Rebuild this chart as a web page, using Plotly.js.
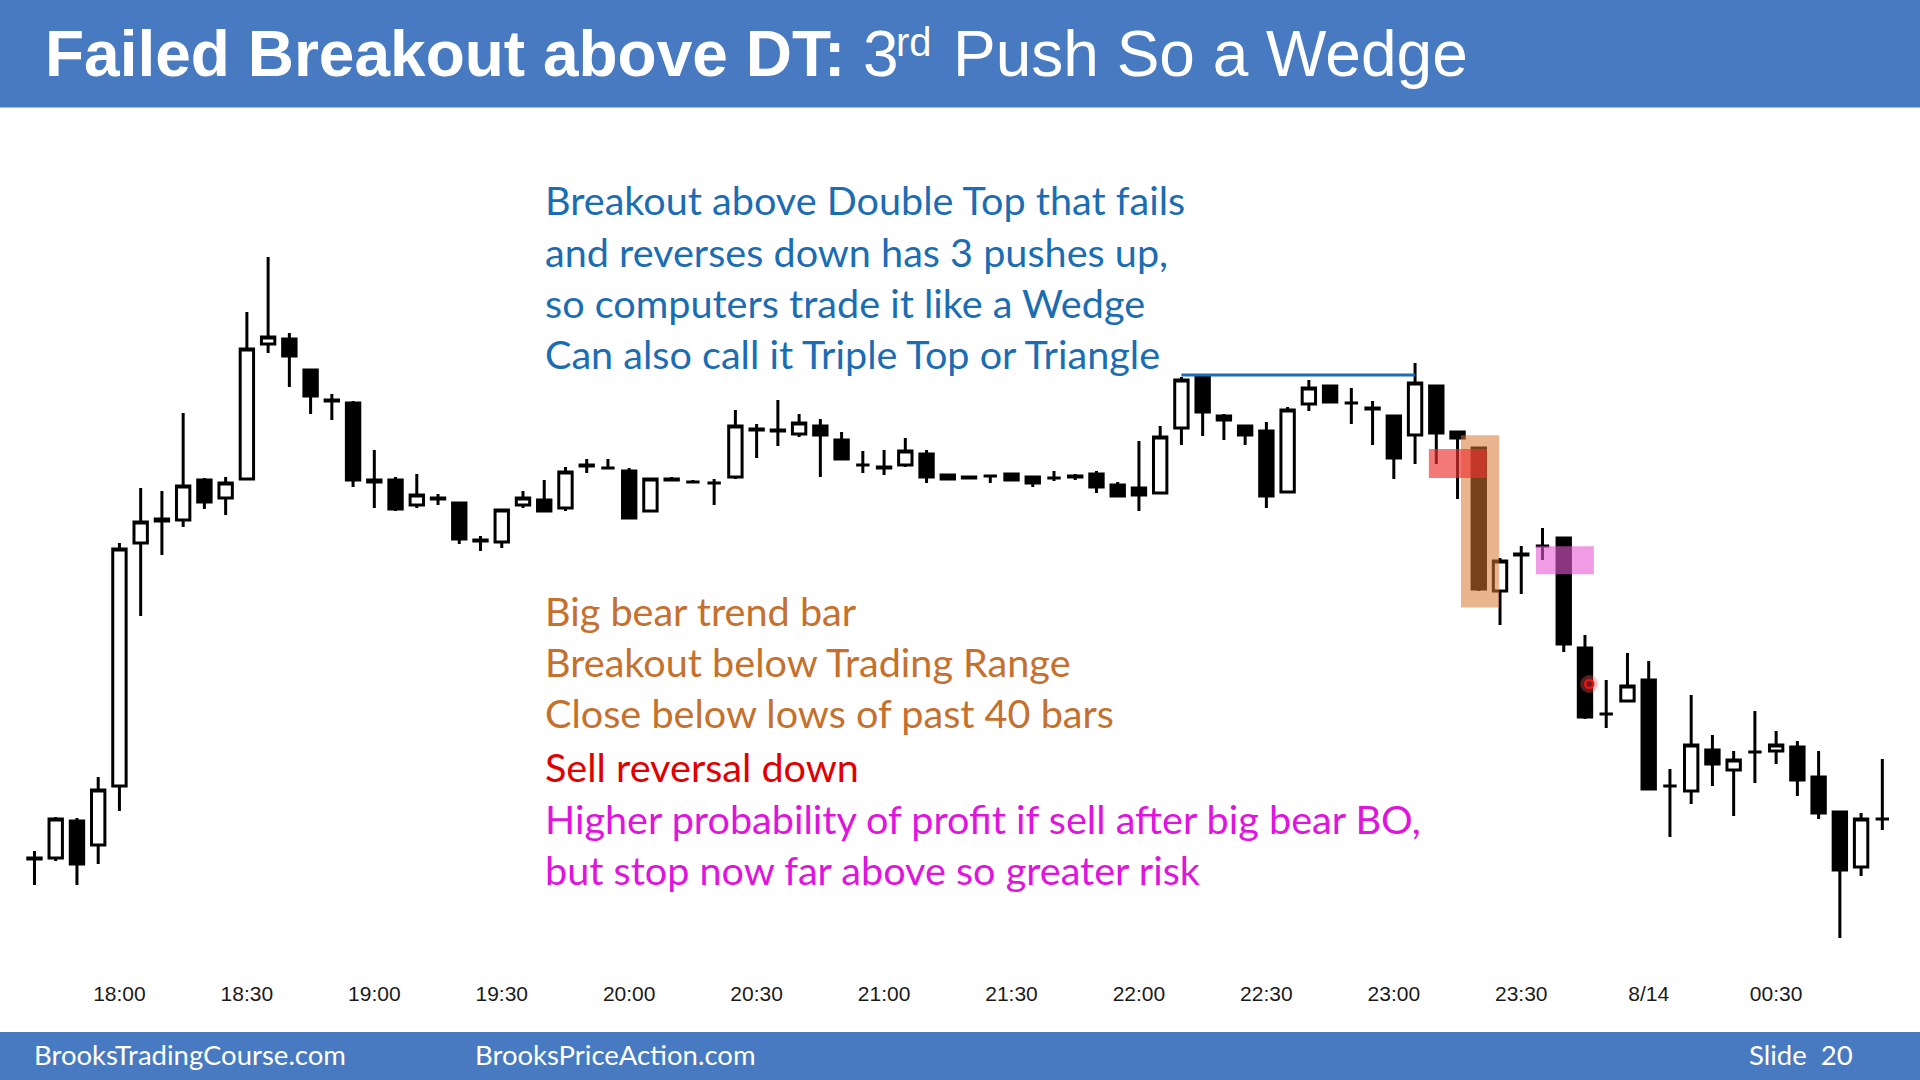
<!DOCTYPE html>
<html>
<head>
<meta charset="utf-8">
<script src="https://cdn.plot.ly/plotly-3.0.1.min.js"></script>
<style>
html, body { margin: 0; padding: 0; background: #ffffff; }
#chart { width: 1920px; height: 1080px; }
</style>
</head>
<body>
<div id="chart"></div>
<script>
// ---- Data (5-minute bars, 13 Aug 17:40 to 14 Aug 00:55) ----
const barTimes = [
  "17:40","17:45","17:50","17:55",
  "18:00","18:05","18:10","18:15","18:20","18:25","18:30","18:35","18:40","18:45","18:50","18:55",
  "19:00","19:05","19:10","19:15","19:20","19:25","19:30","19:35","19:40","19:45","19:50","19:55",
  "20:00","20:05","20:10","20:15","20:20","20:25","20:30","20:35","20:40","20:45","20:50","20:55",
  "21:00","21:05","21:10","21:15","21:20","21:25","21:30","21:35","21:40","21:45","21:50","21:55",
  "22:00","22:05","22:10","22:15","22:20","22:25","22:30","22:35","22:40","22:45","22:50","22:55",
  "23:00","23:05","23:10","23:15","23:20","23:25","23:30","23:35","23:40","23:45","23:50","23:55",
  "00:00","00:05","00:10","00:15","00:20","00:25","00:30","00:35","00:40","00:45","00:50","00:55"
];
const opens = [
  142,142,179,155,214,457,479,480,520,502,521,656,661,630,600,597,518,520,495,501,
  497,459,458,495,500,492,534,532,529,489,520,518,517,523,570,569,566,574,560,535,
  533,535,546,525,523,524,526,523,522,524,526,515,512,507,572,623,584,574,569,508,
  596,614,597,592,584,565,614,568,552,409,445,454,462,352,286,299,320,214,209,250,
  230,248,249,253,223,188,133,181
];
const highs = [
  149,183,182,223,457,512,509,587,522,523,688,743,667,631,606,599,550,523,526,506,
  497,464,491,509,520,533,541,541,532,522,523,520,521,590,576,600,586,581,568,549,
  550,562,550,526,524,525,526,523,529,526,529,518,559,574,623,624,586,575,578,593,
  620,614,612,599,584,637,614,568,553,442,454,472,462,365,320,347,339,231,305,265,
  249,289,269,259,249,188,187,241
];
const lows = [
  115,139,115,136,189,384,445,473,491,485,520,647,613,586,580,513,492,489,492,495,
  456,449,452,492,489,489,527,532,482,489,519,517,495,521,542,554,563,523,540,527,
  525,533,517,520,521,517,520,513,519,520,507,504,489,507,555,564,560,555,492,507,
  589,598,576,555,521,536,536,501,409,375,406,440,348,281,272,299,211,163,196,214,
  184,217,236,204,181,62,124,170
];
const closes = [
  141,181,136,210,451,478,481,514,498,517,651,663,644,604,599,520,520,491,505,502,
  461,460,490,502,489,528,535,532,482,521,521,518,517,574,571,570,577,565,541,535,
  532,549,523,521,522,524,520,517,522,523,513,504,505,563,620,588,580,565,504,590,
  612,598,597,591,542,617,567,562,411,439,446,454,356,283,286,314,211,214,255,236,
  240,248,255,220,187,130,181,181
];
const tickTimes  = ["18:00","18:30","19:00","19:30","20:00","20:30","21:00","21:30","22:00","22:30","23:00","23:30","00:00","00:30"];
const tickLabels = ["18:00","18:30","19:00","19:30","20:00","20:30","21:00","21:30","22:00","22:30","23:00","23:30","8/14","00:30"];

const doubleTopStartBar = 54;
const doubleTopEndBar = 65;
const doubleTopLevel = 625;

const pointerTimes = ["23:46"];
const pointerPrices = [316];

const titleMain = "<b>Failed Breakout above DT:</b> 3";
const titleSup = "rd";
const titleRest = "Push So a Wedge";

const notesBlue = [
  "Breakout above Double Top that fails",
  "and reverses down has 3 pushes up,",
  "so computers trade it like a Wedge",
  "Can also call it Triple Top or Triangle"
];
const notesOrange = [
  "Big bear trend bar",
  "Breakout below Trading Range",
  "Close below lows of past 40 bars"
];
const notesRed = ["Sell reversal down"];
const notesMagenta = [
  "Higher probability of profit if sell after big bear BO,",
  "but stop now far above so greater risk"
];

// ---- helpers ----
function toDate(t) {
  const h = parseInt(t.slice(0, 2), 10);
  return (h >= 12 ? "2019-08-13 " : "2019-08-14 ") + t + ":00";
}
const W = 1920, H = 1080;
const px = x => x / W;
const py = y => 1 - y / H;

const x = barTimes.map(toDate);

const candles = {
  type: "candlestick",
  x: x, open: opens, high: highs, low: lows, close: closes,
  increasing: { line: { color: "#000000", width: 3 }, fillcolor: "#ffffff" },
  decreasing: { line: { color: "#000000", width: 3 }, fillcolor: "#000000" },
  whiskerwidth: 0,
  hoverinfo: "skip",
  showlegend: false
};
const pointerGlow = {
  type: "scatter", mode: "markers",
  x: pointerTimes.map(toDate), y: pointerPrices,
  marker: { size: 18, color: "rgba(255,90,90,0.35)", line: { width: 0 } },
  hoverinfo: "skip", showlegend: false
};
const pointerRing = {
  type: "scatter", mode: "markers",
  x: pointerTimes.map(toDate), y: pointerPrices,
  marker: { size: 8, symbol: "circle-open", color: "#ee1111", line: { width: 2.5, color: "#ee1111" } },
  hoverinfo: "skip", showlegend: false
};

const FS = 39.6;
const annotations = [];
function addLines(lines, baselines, color) {
  lines.forEach((t, i) => {
    annotations.push({
      xref: "paper", yref: "paper", x: px(542.5), y: py(baselines[i] - 0.387 * FS),
      xanchor: "left", yanchor: "middle", showarrow: false, text: t,
      font: { family: "Lato", size: FS, color: color }
    });
  });
}
addLines(notesBlue, [215, 266.4, 317.8, 369.2], "#1b6db3");
addLines(notesOrange, [625.5, 676.5, 727.5], "#c5702c");
addLines(notesRed, [782], "#e00000");
addLines(notesMagenta, [833.5, 884.5], "#e014dc");

const titleFont = { family: "Liberation Sans, Arial, sans-serif", size: 64, color: "#ffffff" };
annotations.push({
  xref: "paper", yref: "paper", x: px(44), y: py(54), xanchor: "left", yanchor: "middle",
  showarrow: false, borderpad: 0, text: titleMain, font: titleFont
});
annotations.push({
  xref: "paper", yref: "paper", x: px(895), y: py(42), xanchor: "left", yanchor: "middle",
  showarrow: false, borderpad: 0, text: titleSup,
  font: { family: "Liberation Sans, Arial, sans-serif", size: 40, color: "#ffffff" }
});
annotations.push({
  xref: "paper", yref: "paper", x: px(951.5), y: py(54), xanchor: "left", yanchor: "middle",
  showarrow: false, borderpad: 0, text: titleRest, font: titleFont
});

const footFont = { family: "Lato", size: 27.5, color: "#ffffff" };
annotations.push({ xref: "paper", yref: "paper", x: px(32), y: py(1054), xanchor: "left", yanchor: "middle",
  showarrow: false, text: "BrooksTradingCourse.com", font: footFont });
annotations.push({ xref: "paper", yref: "paper", x: px(473), y: py(1054), xanchor: "left", yanchor: "middle",
  showarrow: false, text: "BrooksPriceAction.com", font: footFont });
annotations.push({ xref: "paper", yref: "paper", x: px(1855), y: py(1054), xanchor: "right", yanchor: "middle",
  showarrow: false, text: "Slide\u00a0\u00a020", font: footFont });

const shapes = [
  { type: "rect", xref: "paper", yref: "paper", x0: 0, x1: 1, y0: py(107.5), y1: 1,
    fillcolor: "#477ac1", line: { width: 0 } },
  { type: "rect", xref: "paper", yref: "paper", x0: 0, x1: 1, y0: 0, y1: py(1032),
    fillcolor: "#477ac1", line: { width: 0 } },
  { type: "line", xref: "x", yref: "y",
    x0: x[doubleTopStartBar], x1: x[doubleTopEndBar], y0: doubleTopLevel, y1: doubleTopLevel,
    line: { color: "#1b6db3", width: 3 } },
  { type: "rect", xref: "x", yref: "y", x0: "2019-08-13 23:15:48", x1: "2019-08-13 23:24:48",
    y0: 392.6, y1: 564.8, fillcolor: "rgba(215,120,50,0.55)", line: { width: 0 } },
  { type: "rect", xref: "x", yref: "y", x0: "2019-08-13 23:08:15", x1: "2019-08-13 23:21:51",
    y0: 522, y1: 551, fillcolor: "rgba(238,50,50,0.65)", line: { width: 0 } },
  { type: "rect", xref: "x", yref: "y", x0: "2019-08-13 23:33:27", x1: "2019-08-13 23:47:06",
    y0: 425.7, y1: 453.7, fillcolor: "rgba(230,90,210,0.6)", line: { width: 0 } }
];

const layout = {
  width: W, height: H,
  margin: { l: 0, r: 0, t: 0, b: 0 },
  paper_bgcolor: "#ffffff", plot_bgcolor: "#ffffff",
  showlegend: false,
  boxgap: 0.37,
  boxgroupgap: 0,
  hovermode: false,
  xaxis: {
    type: "date",
    range: ["2019-08-13 17:31:53", "2019-08-14 01:03:52"],
    rangeslider: { visible: false },
    showgrid: false, zeroline: false, showline: false,
    tickmode: "array",
    tickvals: tickTimes.map(toDate), ticktext: tickLabels,
    ticks: "outside", ticklen: 5, tickcolor: "rgba(0,0,0,0)",
    tickfont: { family: "Liberation Sans, Arial, sans-serif", size: 21, color: "#1a1a1a" },
    fixedrange: true
  },
  yaxis: {
    range: [30, 890], domain: [110 / 1080, 970 / 1080],
    visible: false, fixedrange: true
  },
  shapes: shapes,
  annotations: annotations
};

Plotly.newPlot("chart", [candles, pointerGlow, pointerRing], layout, { displayModeBar: false, staticPlot: true });
</script>
</body>
</html>
